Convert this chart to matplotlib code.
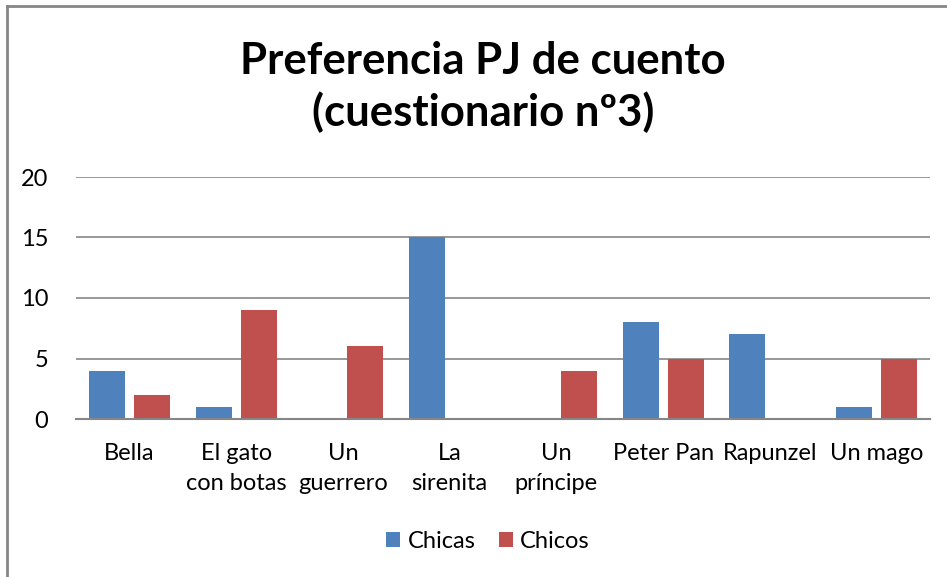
import numpy as np
import matplotlib.pyplot as plt
from matplotlib.lines import Line2D

plt.rcParams['font.family'] = ['Lato', 'DejaVu Sans']

personajes = ["Bella", "El gato\ncon botas", "Un\nguerrero", "La\nsirenita",
              "Un\npríncipe", "Peter Pan", "Rapunzel", "Un mago"]
chicas = [4, 1, 0, 15, 0, 8, 7, 1]
chicos = [2, 9, 6, 0, 4, 5, 0, 5]

azul = "#4F81BD"
rojo = "#C0504D"
gris = "#868686"

fig = plt.figure(figsize=(9.47, 5.77), dpi=100)
ax = fig.add_axes([76 / 947, 1 - 419 / 577, (930 - 76) / 947, (419 - 177) / 577])

x = np.arange(len(personajes))
w = 0.337
ax.bar(x - w / 2 - 0.042, chicas, w, color=azul, label="Chicas")
ax.bar(x + w / 2 + 0.042, chicos, w, color=rojo, label="Chicos")

ax.set_xlim(-0.5, len(personajes) - 0.5)
ax.set_ylim(0, 20)
ax.set_yticks([0, 5, 10, 15, 20])
ax.yaxis.grid(True, color=gris, linewidth=1.2)
ax.set_axisbelow(True)
ax.set_xticks(x)
ax.set_xticklabels(personajes, fontsize=17, linespacing=1.55)
ax.tick_params(axis='both', length=0, labelsize=17, colors='black')
ax.tick_params(axis='x', pad=17)
ax.tick_params(axis='y', pad=20)
for s in ['top', 'right', 'left']:
    ax.spines[s].set_visible(False)
ax.spines['bottom'].set_color(gris)
ax.spines['bottom'].set_linewidth(1.5)

fig.text(483 / 947, 1 - 87 / 577, "Preferencia PJ de cuento\n(cuestionario nº3)",
         ha='center', va='center', fontsize=31.5, fontweight='bold', linespacing=1.3)

fig.legend(loc='center', bbox_to_anchor=(488 / 947, 1 - 541 / 577), ncol=2,
           frameon=False, fontsize=17, handlelength=0.6, handleheight=0.6,
           handletextpad=0.3, columnspacing=1.0)

# marco del gráfico
fig.add_artist(Line2D([7 / 947, 7 / 947], [0, 1 - 6 / 577], color=gris, linewidth=2,
                      transform=fig.transFigure))
fig.add_artist(Line2D([7 / 947, 1], [1 - 6 / 577, 1 - 6 / 577], color=gris, linewidth=2,
                      transform=fig.transFigure))

fig.savefig("out.png", dpi=100)
